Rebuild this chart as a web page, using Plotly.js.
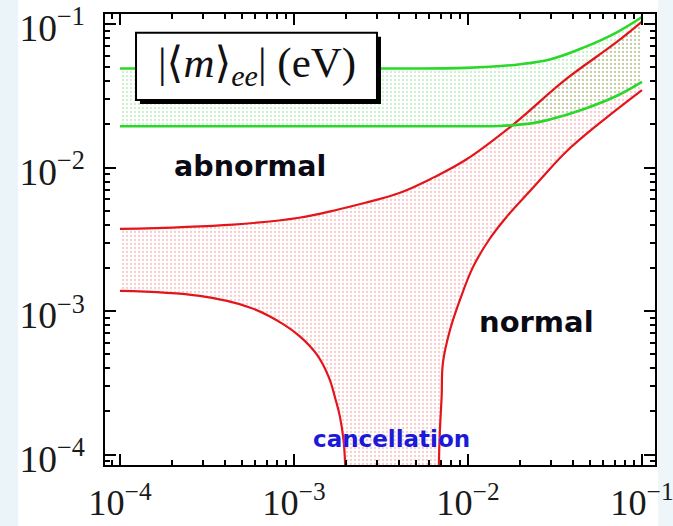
<!DOCTYPE html>
<html>
<head>
<meta charset="utf-8">
<script src="https://cdn.plot.ly/plotly-3.0.1.min.js"></script>
<style>html,body{margin:0;padding:0;background:#fff;}#chart{width:673px;height:526px;}</style>
</head>
<body>
<div id="chart"></div>
<script>
// Lightest neutrino mass (eV) vs |<m>_ee| (eV)
var greenUpperX = [1e-4, 3.2e-3, 9.8e-3, 0.0200, 0.0295, 0.0457, 0.0708, 0.100];
var greenUpperY = [0.0490, 0.0490, 0.0495, 0.0525, 0.0566, 0.0682, 0.0869, 0.112];

var greenLowerX = [1e-4, 0.0100, 0.0153, 0.0236, 0.0295, 0.0457, 0.0708, 0.100];
var greenLowerY = [0.0194, 0.0194, 0.0195, 0.0204, 0.0216, 0.0254, 0.0314, 0.0396];

var redUpperX = [1e-4, 4.47e-4, 1.07e-3, 1.82e-3, 2.57e-3, 4.07e-3, 6.31e-3, 9.77e-3, 0.0182, 0.0363, 0.0708, 0.100];
var redUpperY = [3.74e-3, 4.01e-3, 4.47e-3, 5.13e-3, 5.69e-3, 6.68e-3, 8.51e-3, 0.01138, 0.01995, 0.0410, 0.0741, 0.104];

var redLowerLeftX = [1e-4, 2.88e-4, 5.62e-4, 8.71e-4, 1.081e-3, 1.349e-3, 1.585e-3, 1.738e-3, 1.837e-3, 1.928e-3, 1.963e-3, 1.995e-3];
var redLowerLeftY = [1.384e-3, 1.276e-3, 1.057e-3, 8.09e-4, 6.67e-4, 5.01e-4, 3.47e-4, 2.40e-4, 1.84e-4, 1.26e-4, 9.2e-5, 5.0e-5];

var redLowerRightX = [6.79e-3, 6.81e-3, 6.90e-3, 7.06e-3, 7.18e-3, 7.89e-3, 8.99e-3, 0.01072, 0.01337, 0.01667, 0.02080, 0.02594, 0.03656, 0.05754, 0.100];
var redLowerRightY = [5.0e-5, 8.73e-5, 1.483e-4, 2.547e-4, 4.365e-4, 7.41e-4, 1.197e-3, 2.042e-3, 3.206e-3, 4.53e-3, 6.109e-3, 8.20e-3, 0.01285, 0.02056, 0.0347];

var labelBox = '|\u27E8<i>m</i>\u27E9<sub><i>ee</i></sub>| (eV)';
var regionLabels = ['abnormal', 'normal', 'cancellation'];

// build closed fill regions from the curve arrays
function rev(a){ return a.slice().reverse(); }
var redFillX = redUpperX.concat(rev(redLowerRightX), rev(redLowerLeftX));
var redFillY = redUpperY.concat(rev(redLowerRightY), rev(redLowerLeftY));
var greenFillX = greenUpperX.concat(rev(greenLowerX));
var greenFillY = greenUpperY.concat(rev(greenLowerY));

var RED = '#e3151b', GREEN = '#2ad82a';
var SM = 1.1;

var traces = [
  {x: redFillX, y: redFillY, mode: 'none', fill: 'toself', hoverinfo: 'skip',
   fillcolor: 'rgba(250,225,225,0.5)',
   fillpattern: {shape: '.', size: 4, solidity: 0.25, fgcolor: 'rgba(225,70,70,0.5)', fgopacity: 0.55}},
  {x: greenFillX, y: greenFillY, mode: 'none', fill: 'toself', hoverinfo: 'skip',
   fillcolor: 'rgba(225,245,225,0.5)',
   fillpattern: {shape: '.', size: 4, solidity: 0.25, fgcolor: 'rgba(70,200,70,0.5)', fgopacity: 0.55}},
  {x: redUpperX, y: redUpperY, mode: 'lines', line: {color: RED, width: 2.2, shape: 'spline', smoothing: SM}},
  {x: redLowerLeftX, y: redLowerLeftY, mode: 'lines', line: {color: RED, width: 2.2, shape: 'spline', smoothing: SM}},
  {x: redLowerRightX, y: redLowerRightY, mode: 'lines', line: {color: RED, width: 2.2, shape: 'spline', smoothing: SM}},
  {x: greenUpperX, y: greenUpperY, mode: 'lines', line: {color: GREEN, width: 2.6, shape: 'spline', smoothing: SM}},
  {x: greenLowerX, y: greenLowerY, mode: 'lines', line: {color: GREEN, width: 2.6, shape: 'spline', smoothing: SM}}
];

var serif = '"Liberation Serif", "DejaVu Serif", serif';
var axisCommon = {
  type: 'log', dtick: 1, exponentformat: 'power', showexponent: 'all',
  ticks: 'inside', ticklen: 11, tickwidth: 2, tickcolor: '#000',
  showline: true, linewidth: 2, linecolor: '#000', mirror: 'ticks',
  showgrid: false, zeroline: false, ticklabeloverflow: 'allow',
  minor: {ticks: 'inside', ticklen: 5, tickwidth: 2, tickcolor: '#000', showgrid: false}
};

var layout = {
  width: 673, height: 526,
  margin: {l: 105, r: 18, t: 14, b: 61},
  paper_bgcolor: '#ffffff', plot_bgcolor: '#ffffff',
  showlegend: false,
  xaxis: Object.assign({}, axisCommon, {range: [-4.086, -0.925], ticklabelstandoff: 6,
    tickfont: {family: serif, size: 29, color: '#1a1a1a'}}),
  yaxis: Object.assign({}, axisCommon, {range: [-4.072, -0.930], ticklabelstandoff: 12, ticklabelshift: 4,
    tickfont: {family: serif, size: 30, color: '#1a1a1a'}}),
  shapes: [
    {type: 'rect', xref: 'paper', yref: 'paper', x0: -0.191, x1: -0.158, y0: -0.14, y1: 1.04,
     fillcolor: '#eaf4f9', line: {width: 0}, layer: 'below'},
    {type: 'rect', xref: 'paper', yref: 'paper', x0: 1.0055, x1: 1.04, y0: -0.14, y1: 1.04,
     fillcolor: '#eef6fa', line: {width: 0}, layer: 'below'},
    {type: 'rect', xref: 'paper', yref: 'paper', x0: 0.0636, x1: 0.5018, y0: 0.8004, y1: 0.9497,
     fillcolor: '#000', line: {width: 0}, layer: 'above'},
    {type: 'rect', xref: 'paper', yref: 'paper', x0: 0.0564, x1: 0.4945, y0: 0.8093, y1: 0.9585,
     fillcolor: '#fff', line: {color: '#000', width: 2}, layer: 'above'}
  ],
  annotations: [
    {xref: 'paper', yref: 'paper', x: 0.2755, y: 0.885, xanchor: 'center', yanchor: 'middle',
     text: labelBox, showarrow: false,
     font: {family: serif, size: 43, color: '#111'}},
    {xref: 'paper', yref: 'paper', x: 0.264, y: 0.662, xanchor: 'center', yanchor: 'middle',
     text: '<b>' + regionLabels[0] + '</b>', showarrow: false,
     font: {family: '"DejaVu Sans", Verdana, sans-serif', size: 28.5, color: '#0a0a14'}},
    {xref: 'paper', yref: 'paper', x: 0.784, y: 0.317, xanchor: 'center', yanchor: 'middle',
     text: '<b>' + regionLabels[1] + '</b>', showarrow: false,
     font: {family: '"DejaVu Sans", Verdana, sans-serif', size: 29, color: '#0a0a14'}},
    {xref: 'paper', yref: 'paper', x: 0.52, y: 0.058, xanchor: 'center', yanchor: 'middle',
     text: '<b>' + regionLabels[2] + '</b>', showarrow: false,
     font: {family: '"DejaVu Sans", Verdana, sans-serif', size: 23, color: '#1a1ad8'}}
  ]
};

Plotly.newPlot('chart', traces, layout, {displayModeBar: false, staticPlot: true});
</script>
</body>
</html>
